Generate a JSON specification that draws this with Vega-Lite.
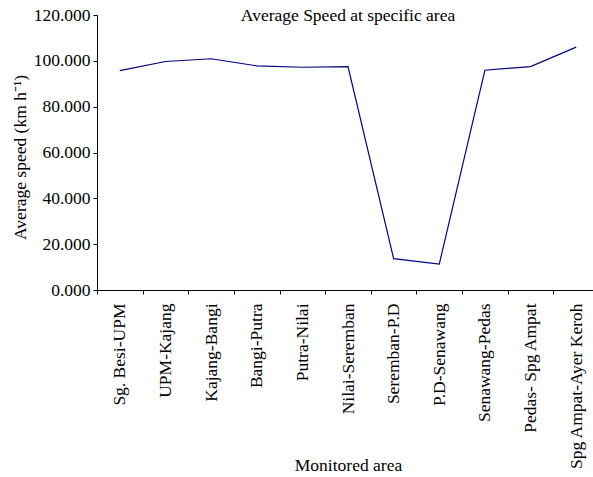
{
  "$schema": "https://vega.github.io/schema/vega-lite/v6.json",
  "width": 502,
  "height": 275,
  "autosize": "none",
  "padding": {"left": 97, "top": 15, "right": 0, "bottom": 187},
  "background": "white",
  "title": {
    "text": "Average Speed at specific area",
    "font": "Liberation Serif",
    "fontSize": 17.5,
    "fontWeight": "normal",
    "color": "black",
    "anchor": "middle",
    "frame": "group",
    "baseline": "alphabetic",
    "offset": 0,
    "dy": 32
  },
  "config": {
    "view": {"stroke": null},
    "font": "Liberation Serif",
    "axis": {
      "labelFont": "Liberation Serif",
      "titleFont": "Liberation Serif",
      "labelFontSize": 17.5,
      "titleFontSize": 17.5,
      "titleFontWeight": "normal",
      "labelColor": "black",
      "titleColor": "black",
      "domainColor": "black",
      "tickColor": "black",
      "grid": false,
      "tickSize": 4
    }
  },
  "data": {
    "values": [
      {"area": "Sg. Besi-UPM", "speed": 95.7},
      {"area": "UPM-Kajang", "speed": 99.7},
      {"area": "Kajang-Bangi", "speed": 100.9},
      {"area": "Bangi-Putra", "speed": 97.8},
      {"area": "Putra-Nilai", "speed": 97.2},
      {"area": "Nilai-Seremban", "speed": 97.5},
      {"area": "Seremban-P.D", "speed": 13.7},
      {"area": "P.D-Senawang", "speed": 11.3},
      {"area": "Senawang-Pedas", "speed": 95.9},
      {"area": "Pedas- Spg Ampat", "speed": 97.5},
      {"area": "Spg Ampat-Ayer Keroh", "speed": 106.0}
    ]
  },
  "mark": {"type": "line", "color": "#000080", "strokeWidth": 1.2},
  "encoding": {
    "x": {
      "field": "area",
      "type": "nominal",
      "sort": null,
      "scale": {"type": "band", "paddingInner": 0, "paddingOuter": 0},
      "axis": {
        "title": "Monitored area",
        "labelFont": "Liberation Serif",
        "titleFont": "Liberation Serif",
        "labelAngle": -90,
        "labelPadding": 9,
        "tickBand": "extent",
        "titleY": 175,
        "titleBaseline": "middle",
        "labelLimit": 300
      }
    },
    "y": {
      "field": "speed",
      "type": "quantitative",
      "scale": {"domain": [0, 120], "nice": false},
      "axis": {
        "title": "Average speed (km h⁻¹)",
        "labelFont": "Liberation Serif",
        "titleFont": "Liberation Serif",
        "values": [0, 20, 40, 60, 80, 100, 120],
        "format": ".3f",
        "labelPadding": 3,
        "titleX": -77,
        "titleY": 142,
        "titleAngle": -90,
        "titleBaseline": "middle",
        "titleAlign": "center"
      }
    }
  }
}
